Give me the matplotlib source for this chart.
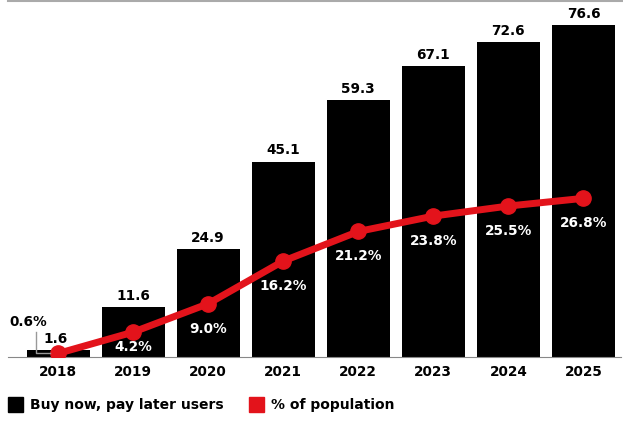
import matplotlib.pyplot as plt
from matplotlib.lines import Line2D
from matplotlib.patches import Rectangle

years = ["2018", "2019", "2020", "2021", "2022", "2023", "2024", "2025"]
users = [1.6, 11.6, 24.9, 45.1, 59.3, 67.1, 72.6, 76.6]
pct = [0.6, 4.2, 9.0, 16.2, 21.2, 23.8, 25.5, 26.8]

plt.rcParams['font.family'] = ['DejaVu Sans']
red = "#e3131b"

fig = plt.figure(figsize=(6.23, 4.21), dpi=100)
ax = fig.add_axes([8 / 623, 64 / 421, 613 / 623, 357 / 421])
ax2 = ax.twinx()

x = list(range(len(years)))
ax.bar(x, users, width=0.84, color="black", zorder=2)
ax.set_xlim(-0.667, 7.5)
ax.set_ylim(0, 82.4)
for i, v in enumerate(users):
    if i == 0:
        continue
    ax.annotate(f"{v}", (i, v), xytext=(0, 3), textcoords="offset points",
                ha="center", va="bottom", fontsize=9.8, fontweight="bold")

ax2.plot(x, pct, color=red, lw=5, marker="o", ms=11, zorder=3, solid_capstyle="round")
ax2.set_ylim(0, 60.3)
for i, v in enumerate(pct):
    if i == 0:
        continue
    dy = -11 if i == 1 else -18
    ax2.annotate(f"{v:.1f}%", (i, v), xytext=(0, dy), textcoords="offset points",
                 ha="center", va="center", fontsize=9.8, fontweight="bold", color="white")

# 2018 callouts
fig.text(56 / 623, (421 - 339) / 421, "1.6", ha="center", va="center",
         fontsize=9.8, fontweight="bold")
fig.text(28 / 623, (421 - 322) / 421, "0.6%", ha="center", va="center",
         fontsize=9.8, fontweight="bold")
fig.add_artist(Line2D([36 / 623, 36 / 623, 50 / 623], [89 / 421, 68 / 421, 68 / 421],
                      color="#999999", lw=1))

for a in (ax, ax2):
    for s in a.spines.values():
        s.set_visible(False)
    a.set_yticks([])
ax.spines["bottom"].set_visible(True)
ax.spines["bottom"].set_color("#888888")
ax.set_xticks(x)
ax.set_xticklabels(years, fontsize=9.8, fontweight="bold")
ax.tick_params(axis="x", length=0, pad=6)

# top rule
fig.add_artist(Line2D([8 / 623, 1], [0.998, 0.998], color="#aaaaaa", lw=1.5))

# legend
fig.add_artist(Rectangle((8 / 623, 9 / 421), 15 / 623, 15 / 421, color="black"))
fig.text(30 / 623, 16.5 / 421, "Buy now, pay later users", fontsize=10, fontweight="bold", va="center")
fig.add_artist(Rectangle((249 / 623, 9 / 421), 15 / 623, 15 / 421, color=red))
fig.text(271 / 623, 16.5 / 421, "% of population", fontsize=10, fontweight="bold", va="center")

fig.savefig("out.png", dpi=100)
